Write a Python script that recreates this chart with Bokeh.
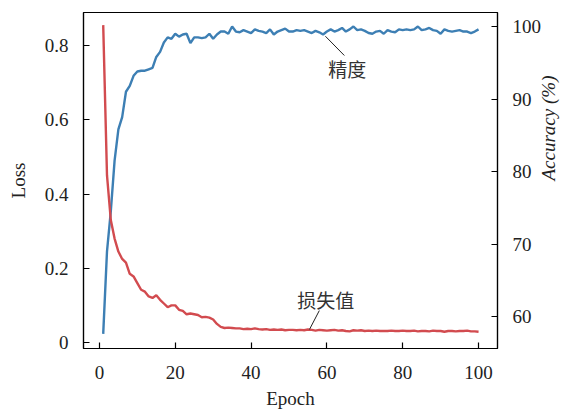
import math
from bokeh.plotting import figure
from bokeh.models import Range1d, LinearAxis, Label, FixedTicker
from bokeh.embed import file_html
from bokeh.resources import INLINE

epochs = list(range(1, 101))

accuracy = [
    57.6, 69.0, 74.5, 81.5, 85.8, 87.5, 91.0, 91.8, 93.2, 93.8,
    93.9, 93.9, 94.1, 94.3, 95.8, 96.5, 97.8, 98.5, 98.3, 99.0,
    98.6, 98.9, 99.0, 97.7, 98.5, 98.5, 98.4, 98.5, 99.0, 98.3,
    98.9, 99.3, 99.3, 99.0, 100.0, 99.3, 99.2, 99.5, 99.3, 99.1,
    99.6, 99.4, 99.3, 99.1, 99.6, 98.9, 99.3, 99.5, 99.7, 99.3,
    99.3, 99.5, 99.4, 99.5, 99.3, 99.1, 99.4, 99.2, 98.9, 99.3,
    99.6, 99.3, 99.5, 99.8, 99.3, 99.6, 100.0, 99.5, 99.6, 99.4,
    99.1, 99.0, 99.3, 99.4, 99.0, 99.5, 99.3, 99.2, 99.6, 99.5,
    99.6, 99.5, 99.6, 100.0, 99.5, 99.6, 99.8, 99.5, 99.4, 99.0,
    99.6, 99.4, 99.3, 99.4, 99.5, 99.3, 99.3, 99.1, 99.3, 99.6,
]

loss = [
    0.855, 0.450, 0.330, 0.280, 0.245, 0.225, 0.215, 0.185, 0.178, 0.160,
    0.142, 0.137, 0.124, 0.120, 0.127, 0.115, 0.105, 0.095, 0.100, 0.100,
    0.088, 0.085, 0.076, 0.078, 0.076, 0.074, 0.068, 0.069, 0.067, 0.062,
    0.050, 0.042, 0.039, 0.040, 0.039, 0.038, 0.038, 0.036, 0.037, 0.036,
    0.038, 0.036, 0.035, 0.036, 0.034, 0.035, 0.034, 0.035, 0.033, 0.034,
    0.034, 0.033, 0.034, 0.033, 0.035, 0.034, 0.032, 0.034, 0.033, 0.032,
    0.033, 0.034, 0.032, 0.033, 0.031, 0.030, 0.033, 0.032, 0.033, 0.031,
    0.032, 0.031, 0.032, 0.031, 0.031, 0.031, 0.032, 0.031, 0.031, 0.032,
    0.031, 0.031, 0.032, 0.030, 0.031, 0.031, 0.030, 0.032, 0.031, 0.031,
    0.029, 0.031, 0.031, 0.030, 0.031, 0.031, 0.032, 0.030, 0.030, 0.029,
]

x_ticks = [0, 20, 40, 60, 80, 100]
loss_ticks = [0, 0.2, 0.4, 0.6, 0.8]
acc_ticks = [60, 70, 80, 90, 100]

# annotation leader lines
acc_leader_x = [59.6, 64.6]
acc_leader_y = [98.66, 96.0]
loss_leader_x = [55.4, 58.0]
loss_leader_y = [0.035, 0.086]

BLUE = "#3d7fb4"
RED = "#d24b4f"
SERIF = "Liberation Serif"
CJK = "Noto Sans CJK SC"

p = figure(width=572, height=412,
           x_range=Range1d(-4.2, 105.0), y_range=Range1d(-0.0162, 0.889),
           output_backend="svg", toolbar_location=None,
           min_border_left=83, min_border_right=73,
           min_border_top=12, min_border_bottom=64)
p.extra_y_ranges = {"acc": Range1d(55.59, 101.93)}

p.xgrid.visible = False
p.ygrid.visible = False
p.outline_line_color = "black"
p.outline_line_width = 1.2
p.background_fill_color = "white"
p.border_fill_color = "white"

right = LinearAxis(y_range_name="acc")
p.add_layout(right, "right")

for ax in [p.xaxis[0], p.yaxis[0], right]:
    ax.major_tick_in = 6
    ax.major_tick_out = 0
    ax.minor_tick_line_color = None
    ax.axis_line_color = "black"
    ax.axis_line_width = 1.2
    ax.major_tick_line_color = "black"
    ax.major_tick_line_width = 1.2
    ax.major_label_text_font = SERIF
    ax.major_label_text_font_size = "19px"
    ax.major_label_text_color = "#222222"
    ax.major_label_text_line_height = 1.0
    ax.major_label_standoff = 15
    ax.axis_label_text_font = SERIF
    ax.axis_label_text_font_size = "19px"
    ax.axis_label_text_color = "#222222"
    ax.axis_label_text_font_style = "normal"
    ax.axis_label_text_line_height = 1.0

p.xaxis[0].ticker = FixedTicker(ticks=x_ticks)
p.yaxis[0].ticker = FixedTicker(ticks=loss_ticks)
right.ticker = FixedTicker(ticks=acc_ticks)
p.yaxis[0].major_label_overrides = {0: "0"}

p.xaxis[0].major_label_standoff = 17
p.xaxis[0].axis_label = "Epoch"
p.xaxis[0].axis_label_standoff = 6
p.yaxis[0].axis_label = "Loss"
p.yaxis[0].axis_label_standoff = 13
right.major_label_standoff = 15
right.axis_label = "Accuracy (%)"
right.axis_label_text_font_style = "italic"
right.axis_label_standoff = 4
right.axis_label_orientation = math.pi / 2

p.line(epochs, accuracy, y_range_name="acc", line_color=BLUE, line_width=2.4)
p.line(epochs, loss, line_color=RED, line_width=2.4)

p.line(acc_leader_x, acc_leader_y, y_range_name="acc", line_color="#222222", line_width=1)
p.line(loss_leader_x, loss_leader_y, line_color="#222222", line_width=1)

p.add_layout(Label(x=65.35, y=94.2, y_range_name="acc", text="精度",
                   text_font=CJK, text_font_size="19px", text_color="#333333",
                   text_align="center", text_baseline="middle"))
p.add_layout(Label(x=59.7, y=0.1158, text="损失值",
                   text_font=CJK, text_font_size="19px", text_color="#333333",
                   text_align="center", text_baseline="middle"))

open("out.html", "w").write(file_html(p, INLINE))
